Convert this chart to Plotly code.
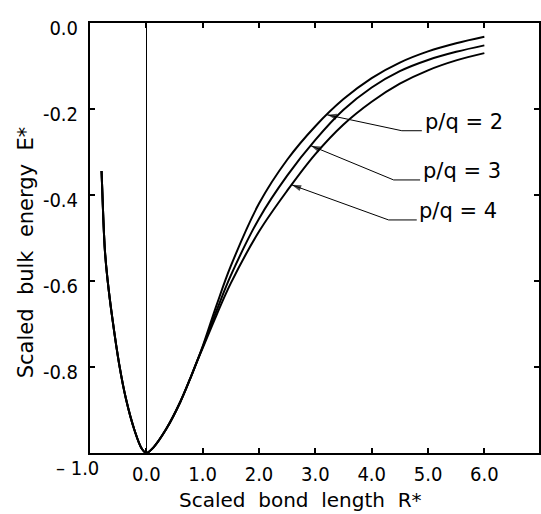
import numpy as np
import plotly.graph_objects as go

# ---- data ----
common_x = [-0.795, -0.765, -0.735, -0.69, -0.60, -0.48, -0.36, -0.21, -0.08, 0.0,
            0.12, 0.35, 0.60, 0.80, 0.90]
common_y = [-0.344, -0.45, -0.53, -0.595, -0.69, -0.795, -0.875, -0.947, -0.99, -1.0,
            -0.988, -0.945, -0.882, -0.820, -0.787]

branch_x = [1.0, 1.25, 1.5, 2.0, 2.5, 3.0, 3.5, 4.0, 4.5, 5.0, 5.5, 6.0]
pq2_y = [-0.752, -0.655, -0.565, -0.420, -0.318, -0.240, -0.177, -0.128, -0.092, -0.066, -0.047, -0.032]
pq3_y = [-0.754, -0.668, -0.587, -0.455, -0.355, -0.272, -0.202, -0.150, -0.112, -0.086, -0.067, -0.052]
pq4_y = [-0.756, -0.678, -0.605, -0.485, -0.390, -0.305, -0.236, -0.183, -0.141, -0.110, -0.087, -0.070]

labels = ["p/q = 2", "p/q = 3", "p/q = 4"]
tip_x = [3.21, 2.92, 2.58]
bend_x = [4.535, 4.39, 4.30]
bend_y = [-0.2505, -0.365, -0.458]
end_x = [4.89, 4.86, 4.80]

xtick_vals = [0, 1, 2, 3, 4, 5, 6]
xtick_text = ["0.0", "1.0", "2.0", "3.0", "4.0", "5.0", "6.0"]
ytick_vals = [0.0, -0.2, -0.4, -0.6, -0.8]
ytick_text = ["0.0", "-0.2", "-0.4", "-0.6", "-0.8"]

# ---- figure ----
W, H = 541, 514
L, T, PW, PH = 90, 23, 451, 430

fig = go.Figure()
series = [pq2_y, pq3_y, pq4_y]
for name, ys in zip(labels, series):
    fig.add_trace(go.Scatter(
        x=common_x + branch_x, y=common_y + ys, mode="lines", name=name,
        line=dict(color="black", width=2, shape="spline", smoothing=1.0),
        hoverinfo="skip", showlegend=False))

TXT = "DejaVu Sans"
TICK = "DejaVu Sans Condensed, DejaVu Sans"

annotations = []
for lab, ys, tx, bx, by, ex in zip(labels, series, tip_x, bend_x, bend_y, end_x):
    ty = float(np.interp(tx, branch_x, ys))
    # leader line from the label to the curve, ending in a small arrowhead
    fig.add_trace(go.Scatter(x=[ex, bx, tx], y=[by, by, ty], mode="lines+markers",
                             line=dict(color="black", width=1),
                             marker=dict(symbol="arrow", size=[0, 0, 10], color="black",
                                         angleref="previous", line=dict(width=0)),
                             hoverinfo="skip", showlegend=False))
    annotations.append(dict(x=ex + 0.03, y=by + 0.021, xref="x", yref="y",
                            text=lab, showarrow=False, xanchor="left",
                            yanchor="middle", borderpad=0,
                            font=dict(family=TXT, size=21, color="black")))

def px2paper_x(px):
    return (px - L) / PW

def py2paper_y(py):
    return (T + PH - py) / PH

annotations.append(dict(x=px2paper_x(26), y=py2paper_y(253), xref="paper", yref="paper",
                        text="Scaled\u00a0\u00a0bulk\u00a0\u00a0energy\u00a0\u00a0E*",
                        textangle=-90, showarrow=False, xanchor="center", yanchor="middle",
                        font=dict(family=TXT, size=21, color="black")))
annotations.append(dict(x=px2paper_x(301), y=py2paper_y(500), xref="paper", yref="paper",
                        text="Scaled\u00a0\u00a0bond\u00a0\u00a0length\u00a0\u00a0R*",
                        showarrow=False, xanchor="center", yanchor="middle", borderpad=0,
                        font=dict(family=TXT, size=20, color="black")))
annotations.append(dict(x=px2paper_x(101), y=py2paper_y(468), xref="paper", yref="paper",
                        text="\u2013 1.0", showarrow=False, xanchor="right", yanchor="middle",
                        font=dict(family=TICK, size=20, color="black")))

fig.update_layout(
    width=W, height=H,
    margin=dict(l=L, r=W - L - PW, t=T, b=H - T - PH, pad=0),
    paper_bgcolor="white", plot_bgcolor="white",
    annotations=annotations,
    xaxis=dict(range=[-1.0, 6.97], showgrid=False, zeroline=True, zerolinecolor="black",
               zerolinewidth=1, showline=True, linecolor="black", linewidth=2,
               mirror="ticks", ticks="inside", ticklen=5, tickwidth=1.5, tickcolor="black",
               tickvals=xtick_vals, ticktext=xtick_text, ticklabelstandoff=2,
               tickfont=dict(family=TICK, size=20, color="black"), fixedrange=True),
    yaxis=dict(range=[-1.0, 0.0], showgrid=False, zeroline=False, showline=True,
               linecolor="black", linewidth=2, mirror="ticks", ticks="inside",
               ticklen=5, tickwidth=1.5, tickcolor="black",
               tickvals=ytick_vals, ticktext=ytick_text, ticklabelstandoff=6,
               ticklabelshift=5,
               tickfont=dict(family=TICK, size=20, color="black"), fixedrange=True),
)

fig.write_html("out.html", config={"displayModeBar": False})

# remove the browser's default 8px body margin so the figure sits at (0, 0)
with open("out.html", "r", encoding="utf-8") as f:
    html = f.read()
html = html.replace("<body>", "<body style=\"margin:0;padding:0;overflow:hidden\">", 1)
with open("out.html", "w", encoding="utf-8") as f:
    f.write(html)
